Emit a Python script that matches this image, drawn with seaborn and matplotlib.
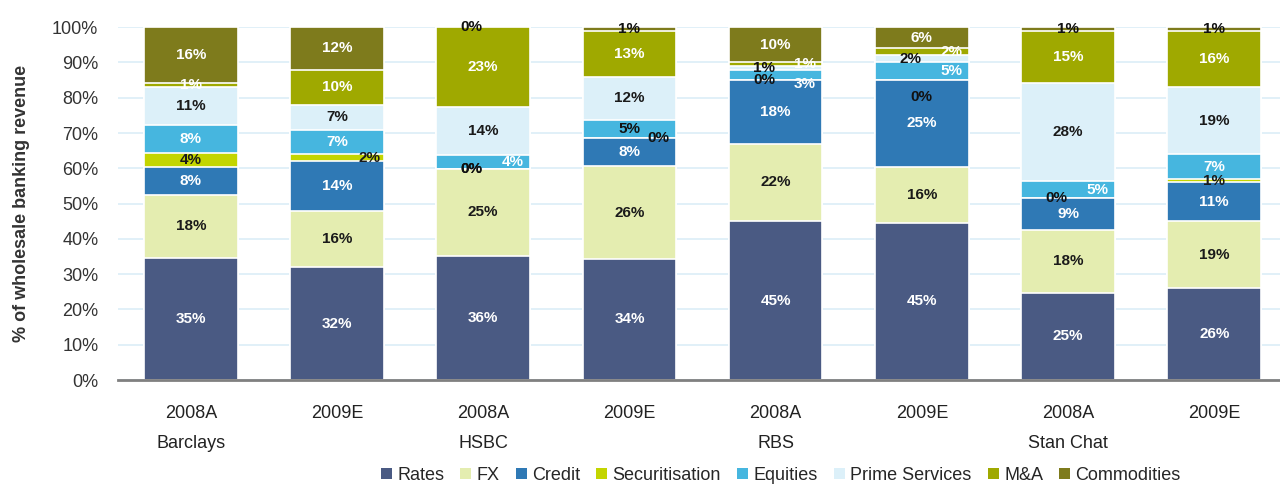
import numpy as np
import pandas as pd
import matplotlib
matplotlib.use("Agg")
import matplotlib.pyplot as plt
import seaborn as sns
from matplotlib.patches import Patch

# Data (labelled % shares of wholesale banking revenue)
bars = ["Barclays 2008A", "Barclays 2009E", "HSBC 2008A", "HSBC 2009E",
        "RBS 2008A", "RBS 2009E", "Stan Chat 2008A", "Stan Chat 2009E"]
tick_labels = ["2008A\nBarclays", "2009E", "2008A\nHSBC", "2009E",
               "2008A\nRBS", "2009E", "2008A\nStan Chat", "2009E"]
segments = ["Rates", "FX", "Credit", "Securitisation", "Equities",
            "Prime Services", "M&A", "Commodities"]

rates = [35, 32, 36, 34, 45, 45, 25, 26]
fx = [18, 16, 25, 26, 22, 16, 18, 19]
credit = [8, 14, 0, 8, 18, 25, 9, 11]
securitisation = [4, 2, 0, 0, 0, 0, 0, 1]
equities = [8, 7, 4, 5, 3, 5, 5, 7]
prime_services = [11, 7, 14, 12, 1, 2, 28, 19]
mna = [1, 10, 23, 13, 1, 2, 15, 16]
commodities = [16, 12, 0, 1, 10, 6, 1, 1]

colors = ["#4a5a83", "#e4edb0", "#2f79b5", "#c3d500", "#46b6df",
          "#dcf0f9", "#9fa900", "#7e7b1c"]
label_colors = ["white", "#1a1a1a", "white", "#1a1a1a", "white",
                "#1a1a1a", "white", "white"]

df = pd.DataFrame({"bar": bars, "Rates": rates, "FX": fx, "Credit": credit,
                   "Securitisation": securitisation, "Equities": equities,
                   "Prime Services": prime_services, "M&A": mna,
                   "Commodities": commodities})

vals = df[segments].to_numpy(dtype=float)
shares = vals / vals.sum(axis=1, keepdims=True) * 100
cum = shares.cumsum(axis=1)

sns.set_theme(style="white")
plt.rcParams["font.family"] = ["Liberation Sans", "DejaVu Sans"]

fig = plt.figure(figsize=(12.8, 4.86), dpi=100)
ax = fig.add_axes([0.092, 0.218, 0.908, 0.726])

# stacked bars: draw cumulative totals from the top segment down
for i in reversed(range(len(segments))):
    sns.barplot(x=df["bar"], y=cum[:, i], color=colors[i], width=0.64,
                edgecolor="white", linewidth=1.2, saturation=1, ax=ax, zorder=2)

# value labels; small slices get nudged sideways like in the original
for b in range(len(bars)):
    for i, seg in enumerate(segments):
        v = int(vals[b, i])
        h = shares[b, i]
        y = cum[b, i] - h / 2
        dx = 0.0
        col = label_colors[i]
        if v == 0:
            col = "#111111"
            dx = 0.2 if b == 3 else -0.08
            if b == 5:
                dx, y = 0.0, y - 5
        elif h < 6 and seg == "Equities" and b == 3:
            dx = 0.0
            col = "#111111"
        elif h < 6 and seg in ("Equities", "M&A") and b >= 2:
            dx = 0.2
            if b == 4 and seg == "Equities":
                y -= 2.5
        elif h < 6 and seg == "Securitisation" and b == 1:
            dx = 0.22
        elif h < 6 and seg == "Prime Services":
            dx = -0.08
            col = "#111111"
        elif h < 2 and seg == "Commodities":
            col = "#111111"
        ax.text(b + dx, y, f"{v}%", ha="center", va="center", fontsize=11,
                fontweight="bold", color=col, zorder=5)

ax.set_ylim(0, 100)
ax.set_xlim(-0.5, 7.45)
ax.set_yticks(np.arange(0, 101, 10))
ax.set_yticklabels([f"{t}%" for t in range(0, 101, 10)], fontsize=13, color="#333333")
ax.yaxis.grid(True, color="#dcedf7", linewidth=1.2, zorder=0)
ax.set_axisbelow(True)

ax.set_xticks(range(len(bars)))
ax.set_xticklabels(tick_labels, fontsize=13, color="#222222", linespacing=2.0, va="top")
ax.set_xticks(np.arange(0.5, 7.5, 1), minor=True)
ax.tick_params(axis="x", which="major", length=0, pad=18)
ax.tick_params(axis="x", which="minor", length=6, width=1, color="#555555", direction="out")
ax.tick_params(axis="y", length=0, pad=14)
ax.set_xlabel("")
ax.set_ylabel("% of wholesale banking revenue", fontsize=13, fontweight="bold",
              color="#333333", labelpad=16)

for s in ["top", "right", "left"]:
    ax.spines[s].set_visible(False)
ax.spines["bottom"].set_color("#808080")
ax.spines["bottom"].set_linewidth(2)

handles = [Patch(facecolor=c, edgecolor="none") for c in colors]
fig.legend(handles, segments, loc="center", bbox_to_anchor=(0.61, 0.022), ncol=8,
           frameon=False, fontsize=13, handlelength=0.6, handleheight=0.6,
           handletextpad=0.3, columnspacing=0.9)

fig.savefig("out.png", dpi=100)
